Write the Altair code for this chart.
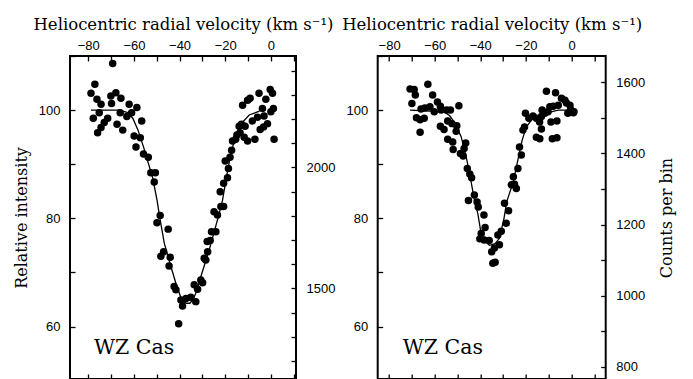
import altair as alt
import pandas as pd

# ---------------- data ----------------
left_v = [-69.3, -77.1, -78.8, -76.2, -74.4, -70.1, -67.9, -65.7, -69.8, -62.1,
          -58.7, -75.2, -66.0, -61.0, -63.1, -77.8, -71.5, -73.0, -56.6, -74.4,
          -75.9, -67.4, -64.9, -59.9, -57.2, -59.1, -55.8, -53.7, -52.6, -50.6,
          -51.1, -48.5, -49.9, -45.0, -47.0, -48.2, -44.1, -44.6, -42.4, -41.6,
          -39.4, -38.7, -37.2, -35.1, -32.9, -40.4, -33.6, -32.1, -30.7, -29.9,
          -29.2, -28.5, -27.7, -27.9, -26.6, -26.0, -24.1, -24.9, -23.4, -21.9,
          -20.7, -22.2, -20.7, -19.0, -18.6, -20.0, -17.9, -17.2, -16.8, -15.4,
          -14.9, -13.5, -11.7, -10.2, -13.9, -12.9, -11.3, -12.4, -10.2, -9.1,
          -5.2, -2.2, -8.1, -7.0, -4.7, -5.9, -3.0, -1.5, -0.3, 0.7,
          0.0, 1.1, 1.4, -3.2, -3.7]
left_I = [108.6, 104.8, 103.1, 102.0, 101.1, 102.6, 103.2, 102.2, 101.2, 101.1,
          100.5, 99.5, 99.5, 99.5, 98.8, 98.5, 98.5, 97.7, 98.0, 96.8,
          95.8, 97.4, 96.3, 95.2, 94.9, 93.2, 91.9, 91.3, 88.4, 88.4,
          86.7, 80.5, 79.2, 78.0, 73.8, 73.0, 72.8, 71.2, 67.4, 66.8,
          64.9, 63.8, 65.2, 65.4, 64.6, 60.5, 67.7, 66.9, 68.6, 68.1,
          72.6, 72.3, 73.8, 75.7, 75.9, 77.5, 77.5, 81.2, 80.6, 82.2,
          82.2, 84.9, 86.5, 87.5, 89.2, 90.6, 91.3, 92.6, 94.3, 94.6,
          95.4, 95.8, 95.0, 94.3, 97.0, 97.4, 97.0, 100.9, 101.8, 102.2,
          103.1, 102.0, 98.0, 94.6, 96.4, 98.7, 98.9, 97.5, 103.8, 103.1,
          99.7, 100.3, 94.6, 96.9, 100.3]

left_model_v = [-78.8, -66.5, -63.0, -60.5, -58.2, -55.8, -53.7, -51.8, -49.9, -48.5,
                -46.7, -43.8, -41.2, -39.0, -37.2, -35.5, -34.0, -32.5, -30.7, -27.0,
                -23.4, -21.2, -19.5, -17.5, -15.4, -13.2, -9.5, -5.0]
left_model_I = [100.0, 100.0, 99.6, 98.5, 96.3, 93.2, 90.2, 87.5, 83.4, 79.7,
                75.4, 71.1, 67.4, 64.9, 64.3, 64.3, 65.0, 66.6, 69.2, 74.2,
                79.7, 83.3, 87.5, 92.0, 95.3, 97.4, 99.1, 99.8]

right_v = [-70.8, -69.0, -63.0, -68.5, -70.0, -66.0, -64.3, -60.9, -62.1, -60.2,
           -58.8, -57.5, -57.2, -54.8, -53.1, -49.4, -68.0, -66.4, -64.6, -66.4,
           -57.5, -55.9, -54.3, -52.4, -50.3, -50.6, -54.3, -52.1, -51.9, -46.4,
           -47.1, -48.7, -47.5, -45.7, -44.6, -43.8, -45.2, -42.6, -41.4, -40.9,
           -38.4, -37.9, -39.6, -40.2, -38.3, -36.1, -33.8, -35.0, -31.6, -34.5,
           -33.5, -32.3, -30.8, -28.6, -27.6, -29.4, -26.4, -25.0, -24.2, -25.5,
           -23.5, -22.0, -22.8, -21.3, -20.6, -20.2, -18.7, -16.9, -15.4, -14.0,
           -13.2, -12.9, -11.7, -10.3, -9.5, -8.0, -5.8, -11.0, -7.0, -4.4,
           -2.9, -2.2, -0.7, 1.1, -0.4, -1.6, 0.8, -9.0, -6.4, -13.2,
           -15.4, -13.9, -8.4, -6.4]
right_I = [103.9, 103.8, 104.8, 102.8, 101.2, 100.2, 100.4, 102.8, 100.6, 99.7,
           101.5, 100.7, 100.0, 100.0, 100.0, 100.8, 98.6, 98.2, 98.5, 95.9,
           97.0, 96.4, 98.0, 97.5, 97.1, 96.1, 94.6, 94.1, 92.7, 93.9,
           92.9, 92.0, 91.5, 89.2, 88.2, 87.5, 83.3, 84.3, 83.0, 82.1,
           80.6, 78.3, 77.2, 76.2, 76.0, 75.9, 74.5, 73.8, 75.1, 71.7,
           71.9, 76.9, 77.6, 79.1, 81.4, 82.8, 86.2, 86.3, 85.5, 87.7,
           89.2, 91.7, 93.2, 96.3, 96.9, 99.4, 98.5, 98.9, 98.5, 97.8,
           98.8, 100.0, 99.4, 99.7, 100.6, 100.7, 100.9, 103.5, 103.2, 102.2,
           101.8, 101.3, 100.9, 99.7, 100.1, 99.4, 99.5, 97.8, 98.0, 96.5,
           95.0, 94.7, 94.7, 94.9]

right_model_v = [-70.8, -56.0, -53.5, -51.4, -48.4, -46.2, -44.3, -42.6, -41.1, -39.9,
                 -38.7, -36.0, -33.5, -31.6, -29.6, -28.4, -25.7, -23.5, -21.6, -19.8,
                 -16.9, -11.7, -5.8, 0.0]
right_model_I = [100.0, 99.7, 99.0, 97.8, 95.1, 91.4, 87.4, 83.4, 80.9, 77.8,
                 76.0, 75.0, 75.3, 76.3, 80.0, 83.1, 86.5, 90.8, 94.5, 96.9,
                 98.5, 99.4, 100.0, 100.0]

velocity_ticks = [-80, -70, -60, -50, -40, -30, -20, -10, 0, 10]
intensity_ticks = [60, 70, 80, 90, 100, 110]
left_count_ticks = [1200, 1300, 1400, 1500, 1600, 1700, 1800, 1900, 2000, 2100, 2200, 2300, 2400]
right_count_ticks = [800, 900, 1000, 1100, 1200, 1300, 1400, 1500, 1600]
left_counts_per_unit = 22.37   # counts per 1% relative intensity
right_counts_per_unit = 15.22

star_label = ["WZ Cas"]
x_title = "Heliocentric radial velocity (km s\u207b\u00b9)"
y_title = "Relative intensity"
y2_title = "Counts per bin"

Y_DOMAIN = [50.3, 110.0]
SERIF = "DejaVu Serif"
SANS = "Liberation Sans"


def panel(v, I, mv, mI, xdom, width, factor, count_ticks, count_step, label_v,
          left_title, right_title):
    pts = pd.DataFrame({"v": v, "I": I})
    mdl = pd.DataFrame({"v": mv, "I": mI})
    lab = pd.DataFrame({"label": star_label})

    def xs():
        return alt.Scale(domain=xdom, nice=False, zero=False)

    def ys():
        return alt.Scale(domain=Y_DOMAIN, nice=False, zero=False)

    top_axis = alt.Axis(
        orient="top", values=velocity_ticks, format="d",
        labelExpr="(datum.value % 20 == 0 && datum.value <= 0) ? datum.label : ''",
        tickSize=5, offset=-5, domain=False, grid=False, labelFlush=False,
        labelPadding=4, labelFont=SANS, labelFontSize=13, labelColor="black",
        tickColor="black", tickWidth=1.3,
        title=x_title, titleFont=SERIF, titleFontSize=16.5, titleFontWeight="normal",
        titleColor="black", titlePadding=7)
    left_axis = alt.Axis(
        orient="left", values=intensity_ticks, format="d",
        labelExpr="datum.value % 20 == 0 ? datum.label : ''",
        tickSize=5, offset=-5, domain=False, grid=False, labelFlush=False,
        labelPadding=10, labelFont=SANS, labelFontSize=13, labelColor="black",
        tickColor="black", tickWidth=1.3,
        title=left_title, titleFont=SERIF, titleFontSize=16, titleFontWeight="normal",
        titleColor="black", titlePadding=9)
    bottom_axis = alt.Axis(
        orient="bottom", values=velocity_ticks, labels=False, tickSize=5, offset=-5,
        domain=False, grid=False, tickColor="black", tickWidth=1.3, title=None)
    right_axis = alt.Axis(
        orient="right", values=count_ticks, format="d",
        labelExpr=f"datum.value % {count_step} == 0 ? datum.label : ''",
        tickSize=5, offset=-5, domain=False, grid=False, labelFlush=False,
        labelPadding=10, labelFont=SANS, labelFontSize=13, labelColor="black",
        tickColor="black", tickWidth=1.3,
        title=right_title, titleFont=SERIF, titleFontSize=16, titleFontWeight="normal",
        titleColor="black", titleAngle=270, titlePadding=30)

    points = alt.Chart(pts).mark_circle(size=56, opacity=1, color="black").encode(
        x=alt.X("v:Q", scale=xs(), axis=top_axis),
        y=alt.Y("I:Q", scale=ys(), axis=left_axis),
    )
    counts = alt.Chart(pts).transform_calculate(
        counts=f"datum.I * {factor}"
    ).mark_point(opacity=0).encode(
        x=alt.X("v:Q", scale=xs(), axis=bottom_axis),
        y=alt.Y("counts:Q", scale=alt.Scale(domain=[Y_DOMAIN[0] * factor, Y_DOMAIN[1] * factor],
                                            nice=False, zero=False), axis=right_axis),
    )
    line = alt.Chart(mdl).mark_line(color="black", strokeWidth=1.3).encode(
        x=alt.X("v:Q", scale=xs(), axis=None),
        y=alt.Y("I:Q", scale=ys(), axis=None),
    )
    text = alt.Chart(lab).mark_text(
        font=SERIF, fontSize=20.5, align="left",
        baseline="alphabetic", color="black").encode(
        text="label:N",
        x=alt.XDatum(label_v, type="quantitative", scale=xs(), axis=None),
        y=alt.YDatum(55.0, type="quantitative", scale=ys(), axis=None),
    )
    return alt.layer(points, counts, line, text).resolve_scale(
        x="independent", y="independent").properties(width=width, height=323)


left = panel(left_v, left_I, left_model_v, left_model_I, [-88, 11], 226,
             left_counts_per_unit, left_count_ticks, 500, -77.5, y_title, None)
right = panel(right_v, right_I, right_model_v, right_model_I, [-85, 15], 228,
              right_counts_per_unit, right_count_ticks, 200, -74.0, None, y2_title)

chart = alt.hconcat(left, right, spacing=81.7, bounds="flush").properties(
    padding={"left": 12, "top": 15, "right": 5, "bottom": 0},
    background="white",
).configure_view(stroke="black", strokeWidth=2)

chart.save("out.html", embed_options={"renderer": "svg", "actions": False})
